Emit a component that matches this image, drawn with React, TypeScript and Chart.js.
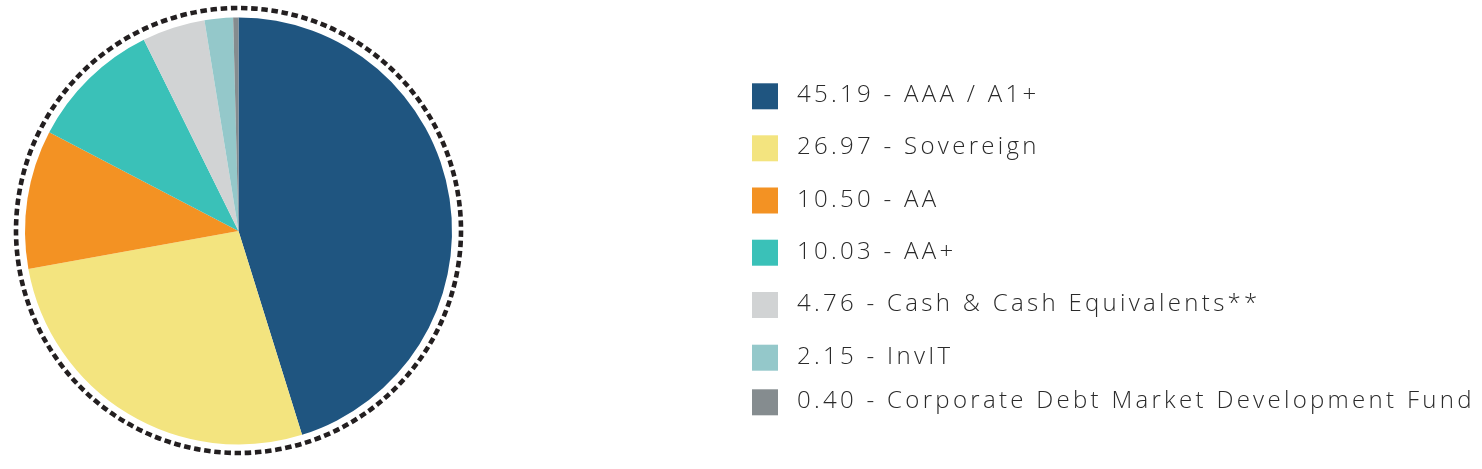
import React, { useEffect, useRef } from "react";
import { Chart, registerables } from "chart.js";

Chart.register(...registerables);

const values = [45.19, 26.97, 10.5, 10.03, 4.76, 2.15, 0.4];
const valueLabels = ["45.19", "26.97", "10.50", "10.03", "4.76", "2.15", "0.40"];
const categories = [
  "AAA / A1+",
  "Sovereign",
  "AA",
  "AA+",
  "Cash & Cash Equivalents**",
  "InvIT",
  "Corporate Debt Market Development Fund",
];
const colors = ["#1f5580", "#f3e47f", "#f39223", "#3ac1b8", "#d1d3d4", "#94c8ca", "#858c8f"];
const rowCenters = [96.3, 148.3, 200.5, 252.7, 305, 357.7, 402.3];

const W = 1482;
const H = 469;

const overlayPlugin = {
  id: "overlay",
  afterDraw(chart: any) {
    const ctx = chart.ctx;
    const arc = chart.getDatasetMeta(0).data[0];
    if (arc) {
      ctx.save();
      ctx.beginPath();
      ctx.arc(arc.x, arc.y - 0.5, arc.outerRadius + 9, 0, Math.PI * 2);
      ctx.setLineDash([6.5, 3.7]);
      ctx.lineWidth = 4.6;
      ctx.strokeStyle = "#231f20";
      ctx.stroke();
      ctx.restore();
    }
    ctx.save();
    const labels = chart.data.labels as string[];
    labels.forEach((lab: string, i: number) => {
      const cy = rowCenters[i];
      ctx.fillStyle = colors[i];
      ctx.fillRect(752, cy - 13, 26, 26);
      ctx.fillStyle = "#2a2a2a";
      ctx.font = "300 24px 'Open Sans'";
      (ctx as any).letterSpacing = "3.3px";
      ctx.textBaseline = "alphabetic";
      ctx.textAlign = "left";
      ctx.fillText(lab, 797, cy + 6);
    });
    ctx.restore();
  },
};

export default function App() {
  const ref = useRef<HTMLCanvasElement | null>(null);
  useEffect(() => {
    document.body.style.margin = "0";
    const canvas = ref.current!;
    const chart = new Chart(canvas, {
      type: "pie",
      data: {
        labels: categories.map((c, i) => `${valueLabels[i]} - ${c}`),
        datasets: [
          {
            data: values,
            backgroundColor: colors,
            borderWidth: 0,
          },
        ],
      },
      options: {
        responsive: false,
        animation: false,
        layout: { padding: { left: 25, top: 17.5, right: W - 452, bottom: H - 444.5 } },
        plugins: { legend: { display: false }, tooltip: { enabled: false } },
      },
      plugins: [overlayPlugin],
    });
    return () => chart.destroy();
  }, []);
  return (
    <canvas
      ref={ref}
      width={W}
      height={H}
      style={{ position: "absolute", left: 0, top: 0, width: W, height: H }}
    />
  );
}
